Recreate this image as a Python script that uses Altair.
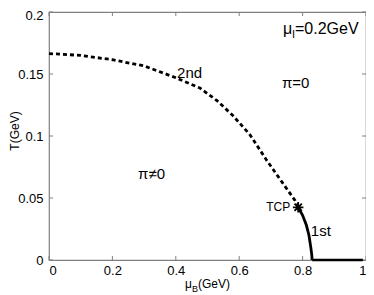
import altair as alt
import pandas as pd

# second-order (dashed) boundary
mu_2nd = [0.0, 0.1, 0.2, 0.3, 0.4, 0.476, 0.53, 0.58, 0.634, 0.687, 0.738, 0.776, 0.786]
T_2nd = [0.1665, 0.165, 0.1615, 0.1565, 0.147, 0.1387, 0.1285, 0.1165, 0.101, 0.0803, 0.0618, 0.048, 0.0425]
# first-order (solid) boundary
mu_1st = [0.786, 0.800, 0.812, 0.820, 0.826, 0.829, 0.830]
T_1st = [0.0425, 0.036, 0.028, 0.020, 0.010, 0.004, 0.0]
# flat segment on T=0
mu_flat = [0.830, 0.99]
T_flat = [0.0, 0.0]
# tricritical point
tcp_mu = [0.786]
tcp_T = [0.0425]

x_ticks = [0, 0.2, 0.4, 0.6, 0.8, 1]
y_ticks = [0, 0.05, 0.1, 0.15, 0.2]

# labels inside plot
lab_text = ["2nd", "π=0", "π≠0", "1st"]
lab_mu = [0.404, 0.735, 0.281, 0.826]
lab_T = [0.151, 0.143, 0.069, 0.0233]

W, H = 317, 248
FONT = "Liberation Sans"

xs = alt.Scale(domain=[0, 1], nice=False)
ys = alt.Scale(domain=[0, 0.2], nice=False)

df2 = pd.DataFrame({"mu": mu_2nd, "T": T_2nd})
df1 = pd.DataFrame({"mu": mu_1st, "T": T_1st})
dff = pd.DataFrame({"mu": mu_flat, "T": T_flat})
dtcp = pd.DataFrame({"mu": tcp_mu, "T": tcp_T})
dlab = pd.DataFrame({"mu": lab_mu, "T": lab_T, "t": lab_text})
dxt = pd.DataFrame({"v": x_ticks})
dyt = pd.DataFrame({"v": y_ticks})

xaxis = alt.Axis(values=x_ticks, format="~f", title=None, ticks=False, domain=False,
                 grid=False, labelFont=FONT, labelFontSize=13, labelColor="black",
                 labelPadding=4)
yaxis = alt.Axis(values=y_ticks, format="~f", title=None, ticks=False, domain=False,
                 grid=False, labelFont=FONT, labelFontSize=13, labelColor="black",
                 labelPadding=6,
                 labelOffset={"condition": {"test": "datum.value >= 0.2", "value": 3}, "value": 0})

dashed = alt.Chart(df2).mark_line(color="black", strokeWidth=2.8, strokeDash=[4, 3]).encode(
    x=alt.X("mu:Q", scale=xs, axis=xaxis),
    y=alt.Y("T:Q", scale=ys, axis=yaxis),
    order="mu:Q",
)
solid = alt.Chart(df1).mark_line(color="black", strokeWidth=2.8).encode(
    x=alt.X("mu:Q", scale=xs), y=alt.Y("T:Q", scale=ys), order=alt.Order("T:Q", sort="descending")
)
flat = alt.Chart(dff).mark_line(color="black", strokeWidth=2.6).encode(
    x=alt.X("mu:Q", scale=xs), y=alt.Y("T:Q", scale=ys)
)
star = alt.Chart(dtcp).mark_point(
    shape="M-1,0L1,0M0,-1L0,1M-0.7,-0.7L0.7,0.7M-0.7,0.7L0.7,-0.7",
    filled=False, color="black", strokeWidth=1.8, size=110, opacity=1,
).encode(x=alt.X("mu:Q", scale=xs), y=alt.Y("T:Q", scale=ys))

labels = alt.Chart(dlab).mark_text(font=FONT, fontSize=15, align="left", baseline="middle",
                                   color="black").encode(
    x=alt.X("mu:Q", scale=xs), y=alt.Y("T:Q", scale=ys), text="t:N"
)
tcp_lab = alt.Chart(dtcp).mark_text(font=FONT, fontSize=12, align="right", baseline="middle",
                                    dx=-8, dy=0, color="black").encode(
    x=alt.X("mu:Q", scale=xs), y=alt.Y("T:Q", scale=ys), text=alt.value("TCP")
)

one = pd.DataFrame({"a": [0]})
def txt(s, x, y, size, angle=0, align="left", color="black"):
    return alt.Chart(one).mark_text(font=FONT, fontSize=size, align=align, baseline="middle",
                                    angle=angle, color=color).encode(
        x=alt.value(x), y=alt.value(y), text=alt.value(s))

mu_i = txt("μ", 234, 17, 16) + txt("I", 243, 23, 11) + txt("=0.2GeV", 246, 17, 16)
xtitle = txt("μ", 136, 272, 12) + txt("B", 143, 277, 9) + txt("(GeV)", 149, 272, 12)
ytitle = txt("T(GeV)", -34, 119, 12, angle=270, align="center")

# inward ticks
tb = alt.Chart(dxt).mark_rule(color="#808080", strokeWidth=1).encode(
    x=alt.X("v:Q", scale=xs), y=alt.value(H), y2=alt.value(H - 4))
tt = alt.Chart(dxt).mark_rule(color="#808080", strokeWidth=1).encode(
    x=alt.X("v:Q", scale=xs), y=alt.value(0), y2=alt.value(4))
tl = alt.Chart(dyt).mark_rule(color="#808080", strokeWidth=1).encode(
    y=alt.Y("v:Q", scale=ys), x=alt.value(0), x2=alt.value(4))
tr = alt.Chart(dyt).mark_rule(color="#808080", strokeWidth=1).encode(
    y=alt.Y("v:Q", scale=ys), x=alt.value(W), x2=alt.value(W - 4))

chart = alt.layer(
    tb, tt, tl, tr, dashed, solid, flat, star, labels, tcp_lab, mu_i, xtitle, ytitle
).properties(
    width=W, height=H,
    autosize=alt.AutoSizeParams(type="none"),
    padding={"left": 41, "top": 4, "right": 0, "bottom": 35},
    background="white",
).configure_view(stroke="#808080", strokeWidth=1.2)

chart.save("out.html", embed_options={"renderer": "svg", "actions": False})
